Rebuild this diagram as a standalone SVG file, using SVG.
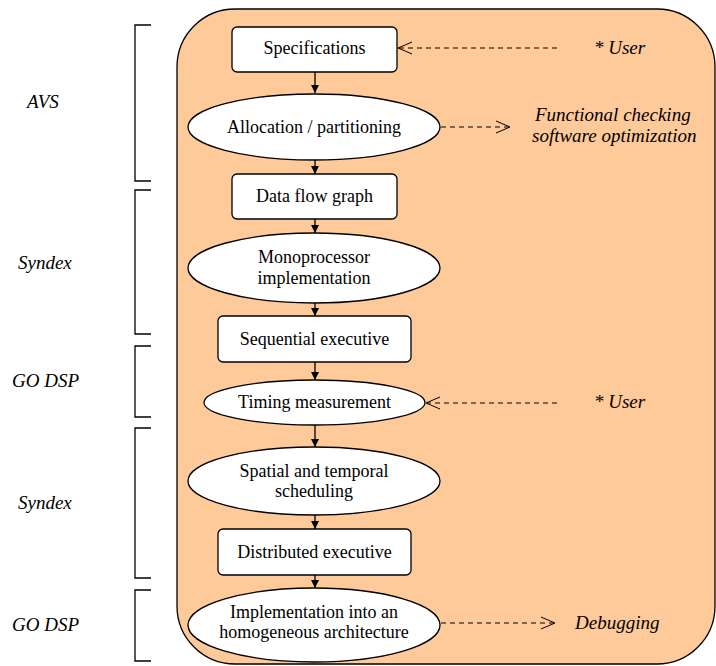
<svg xmlns="http://www.w3.org/2000/svg" width="716" height="666" viewBox="0 0 716 666">
<style>
.bg{fill:#FFCA99;stroke:#000;stroke-width:1.3}
.box{fill:#fff;stroke:#000;stroke-width:1.3}
.t{font-size:18px;fill:#000;text-anchor:middle}
.it{font-size:19px;font-style:italic;fill:#000}
.br{fill:none;stroke:#000;stroke-width:1.3}
.solid{stroke:#000;stroke-width:1.3;fill:none}
.dash{stroke:#000;stroke-width:1;fill:none;stroke-dasharray:5 4}
.open{stroke:#000;stroke-width:1;fill:none}
</style>
<defs>
<marker id="ah" markerWidth="10" markerHeight="10" refX="8" refY="4" orient="auto" markerUnits="userSpaceOnUse">
<path d="M0,0 L8,4 L0,8 Z" fill="#000"/>
</marker>
</defs>
<g font-family="Liberation Serif, Times New Roman, DejaVu Serif, serif">
<rect class="bg" x="177" y="9" width="538" height="655" rx="58" ry="58"/>
<g id="brackets">
<path class="br" d="M151,25 H135 V181 H151"/>
<path class="br" d="M151,190 H135 V334 H151"/>
<path class="br" d="M151,346 H135 V417 H151"/>
<path class="br" d="M151,428 H135 V578 H151"/>
<path class="br" d="M151,590 H135 V661 H151"/>
</g>
<g id="labels">
<text class="it" x="27" y="108">AVS</text>
<text class="it" x="18" y="269">Syndex</text>
<text class="it" x="12" y="387">GO DSP</text>
<text class="it" x="18" y="509">Syndex</text>
<text class="it" x="12" y="631">GO DSP</text>
</g>
<g id="connectors">
<line class="solid" x1="315" y1="72" x2="315" y2="93" marker-end="url(#ah)"/>
<line class="solid" x1="315" y1="160" x2="315" y2="174" marker-end="url(#ah)"/>
<line class="solid" x1="315" y1="219" x2="315" y2="233" marker-end="url(#ah)"/>
<line class="solid" x1="315" y1="303" x2="315" y2="316" marker-end="url(#ah)"/>
<line class="solid" x1="315" y1="362" x2="315" y2="380" marker-end="url(#ah)"/>
<line class="solid" x1="315" y1="425" x2="315" y2="447" marker-end="url(#ah)"/>
<line class="solid" x1="315" y1="515" x2="315" y2="529" marker-end="url(#ah)"/>
<line class="solid" x1="315" y1="575" x2="315" y2="588" marker-end="url(#ah)"/>
<line class="dash" x1="557" y1="48" x2="399" y2="48"/>
<path class="open" d="M412,42 L398,48 L412,54"/>
<line class="dash" x1="441" y1="127" x2="509" y2="127"/>
<path class="open" d="M496,121 L510,127 L496,133"/>
<line class="dash" x1="557" y1="403" x2="427" y2="403"/>
<path class="open" d="M440,397 L426,403 L440,409"/>
<line class="dash" x1="441" y1="623" x2="554" y2="623"/>
<path class="open" d="M541,617 L555,623 L541,629"/>
</g>
<g id="n1"><rect class="box" x="232" y="27" width="165" height="45" rx="5"/><text class="t" x="314.5" y="54">Specifications</text></g>
<g id="n2"><ellipse class="box" cx="314" cy="127" rx="126" ry="33"/><text class="t" x="314" y="133">Allocation / partitioning</text></g>
<g id="n3"><rect class="box" x="232" y="174" width="165" height="45" rx="5"/><text class="t" x="314.5" y="202">Data flow graph</text></g>
<g id="n4"><ellipse class="box" cx="314" cy="268" rx="126" ry="35"/><text class="t" x="314" y="263">Monoprocessor</text><text class="t" x="314" y="284">implementation</text></g>
<g id="n5"><rect class="box" x="218" y="316" width="193" height="46" rx="5"/><text class="t" x="314.5" y="345">Sequential executive</text></g>
<g id="n6"><ellipse class="box" cx="314.5" cy="402.5" rx="110.5" ry="22.5"/><text class="t" x="314.5" y="408">Timing measurement</text></g>
<g id="n7"><ellipse class="box" cx="314" cy="481" rx="126" ry="34"/><text class="t" x="314" y="477">Spatial and temporal</text><text class="t" x="314" y="497">scheduling</text></g>
<g id="n8"><rect class="box" x="218" y="529" width="193" height="46" rx="5"/><text class="t" x="314.5" y="558">Distributed executive</text></g>
<g id="n9"><ellipse class="box" cx="314" cy="625" rx="126" ry="37"/><text class="t" x="314" y="618">Implementation into an</text><text class="t" x="314" y="638">homogeneous architecture</text></g>
<g id="notes">
<text class="it" x="594" y="54">* User</text>
<text class="it" x="535" y="121">Functional checking</text>
<text class="it" x="532" y="142">software optimization</text>
<text class="it" x="594" y="408">* User</text>
<text class="it" x="575" y="629">Debugging</text>
</g>
</g>
</svg>
